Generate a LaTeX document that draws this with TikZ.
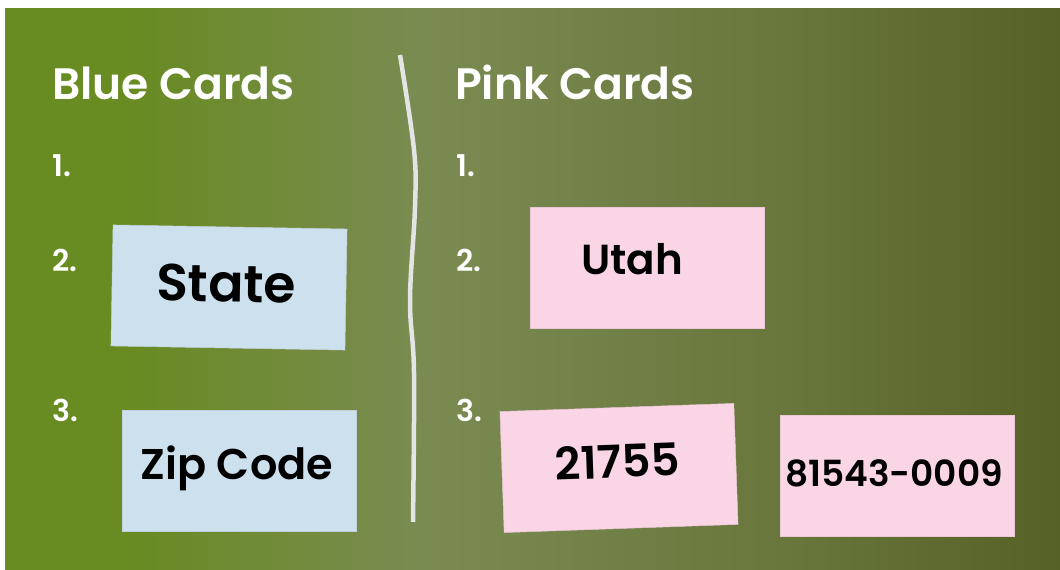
\documentclass[tikz,border=0pt]{standalone}
\usepackage{fontspec}
\setmainfont{Poppins}[BoldFont={Poppins SemiBold}]
\definecolor{gA}{RGB}{104,139,34}
\definecolor{gB}{RGB}{122,139,82}
\definecolor{gC}{RGB}{105,118,60}
\definecolor{gD}{RGB}{85,97,37}
\definecolor{bluecard}{RGB}{205,224,238}
\definecolor{pinkcard}{RGB}{250,213,230}
\definecolor{divider}{RGB}{228,228,228}
\pgfdeclarehorizontalshading{bgshade}{100bp}{color(0bp)=(gA); color(25bp)=(gA); color(31bp)=(gA); color(45bp)=(gB); color(62bp)=(gC); color(75bp)=(gD); color(100bp)=(gD)}
\tikzset{
  card/.style={minimum width=234pt, minimum height=121pt, inner sep=0pt, draw=#1!85!gray, line width=0.5pt, fill=#1},
  head/.style={text=white, font=\bfseries\fontsize{44}{48}\selectfont, anchor=base west, inner sep=0pt},
  num/.style={text=white, font=\bfseries\fontsize{30}{32}\selectfont, anchor=base west, inner sep=0pt},
  cardtext/.style={text=black, font=\bfseries\fontsize{#1}{#1}\selectfont, anchor=base, inner sep=0pt},
}
\begin{document}
\begin{tikzpicture}[x=1pt,y=1pt]
\useasboundingbox (0,0) rectangle (1060,570);
\fill[white] (0,0) rectangle (1060,570);
\shade[shading=bgshade] (5,0) rectangle (1060,561);
% divider
\coordinate (d1) at (400,515);
\coordinate (d2) at (414,420);
\coordinate (d3) at (415,363);
\coordinate (d4) at (410,270);
\coordinate (d5) at (414,197);
\coordinate (d6) at (413,48);
\draw[divider, line width=4.5pt] plot[smooth, tension=0.6] coordinates {(d1) (d2) (d3) (d4) (d5) (d6)};
% headings
\node[head] (hb) at (52,470) {Blue Cards};
\node[head] (hp) at (455,470) {Pink Cards};
\node[num] (b1) at (52,393) {1.};
\node[num] (b2) at (52,298) {2.};
\node[num] (b3) at (52,148) {3.};
\node[num] (p1) at (456,393) {1.};
\node[num] (p2) at (456,298) {2.};
\node[num] (p3) at (456,148) {3.};
% cards
\node[card=bluecard, rotate=-1] (cs) at (229,282.5) {};
\node[cardtext=52, rotate=-1] (ts) at (226,268) {State};
\node[card=bluecard] (cz) at (239,99.5) {};
\node[cardtext=43] (tz) at (237,90) {Zip Code};
\node[card=pinkcard] (cu) at (647,302.5) {};
\node[cardtext=42] (tu) at (632,295) {Utah};
\node[card=pinkcard, rotate=2] (cn) at (619,102) {};
\node[cardtext=45, rotate=2] (tn) at (618,92) {21755};
\node[card=pinkcard] (cm) at (897,94.5) {};
\node[cardtext=36] (tm) at (894,83) {81543-0009};
\end{tikzpicture}
\end{document}
